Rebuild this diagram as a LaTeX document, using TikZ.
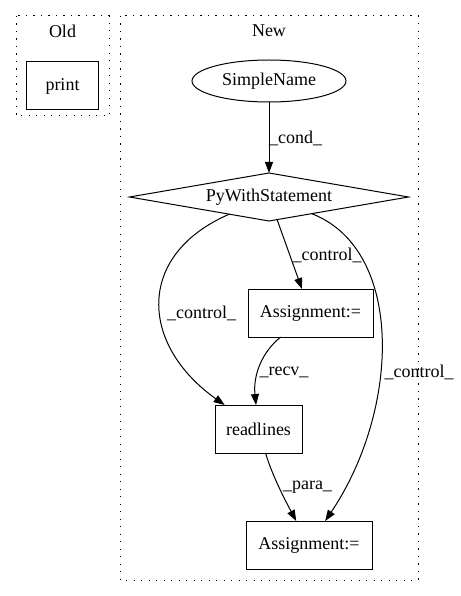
\documentclass[tikz,border=0pt]{standalone}
\usepackage{fontspec}
\setmainfont{Liberation Serif}
\usetikzlibrary{shapes.geometric,arrows.meta}
\begin{document}
\begin{tikzpicture}[x=1pt,y=-1pt,
  every node/.style={font=\fontsize{18}{20}\selectfont, inner sep=0pt, outer sep=0pt},
  cluster/.style={draw, line width=1pt, dash pattern=on 1.2pt off 6.3pt},
  boxnode/.style={draw, line width=1pt, rectangle, minimum height=48pt},
  edge/.style={draw, line width=1pt, -{Triangle[length=11pt,width=8pt]}},
  elabel/.style={fill=none}
]
\useasboundingbox (0,0) rectangle (460,596);
% clusters
\draw[cluster] (16,16) rectangle (109,116);
\node (oldlbl) at (62.5,31) {Old};
\draw[cluster] (120,16) rectangle (418,580);
\node (newlbl) at (269,31) {New};
% nodes
\node[boxnode, minimum width=72pt] (print) at (62.5,86) {print};
\node[draw, line width=1pt, ellipse, minimum width=154pt, minimum height=42pt] (sn) at (269,81) {SimpleName};
\node[draw, line width=1pt, diamond, aspect=5.8, minimum width=279pt, minimum height=48pt, inner sep=0pt] (pw) at (269,197) {};
\node (pwtext) at (269,197) {PyWithStatement};
\node[boxnode, minimum width=125pt] (a1) at (310.5,313) {Assignment:=};
\node[boxnode, minimum width=87pt] (rl) at (258.5,429) {readlines};
\node[boxnode, minimum width=126pt] (a2) at (309,545) {Assignment:=};
% edges
\draw[edge] (sn) -- (pw.north);
\node[elabel] (l1) at (295.5,138) {\_cond\_};
\draw[edge] (pw) -- (a1);
\node[elabel] (l2) at (327,255) {\_control\_};
\draw[edge] (pw) .. controls (135,255) and (140,345) .. (rl);
\node[elabel] (l3) at (201.5,313) {\_control\_};
\draw[edge] (pw) .. controls (405,250) and (400,410) .. (a2);
\node[elabel] (l4) at (419,372) {\_control\_};
\draw[edge] (a1) .. controls (262,352) and (253,375) .. (rl);
\node[elabel] (l5) at (284,372) {\_recv\_};
\draw[edge] (rl) .. controls (272,475) and (285,500) .. (a2);
\node[elabel] (l6) at (307.5,487) {\_para\_};
\end{tikzpicture}
\end{document}
